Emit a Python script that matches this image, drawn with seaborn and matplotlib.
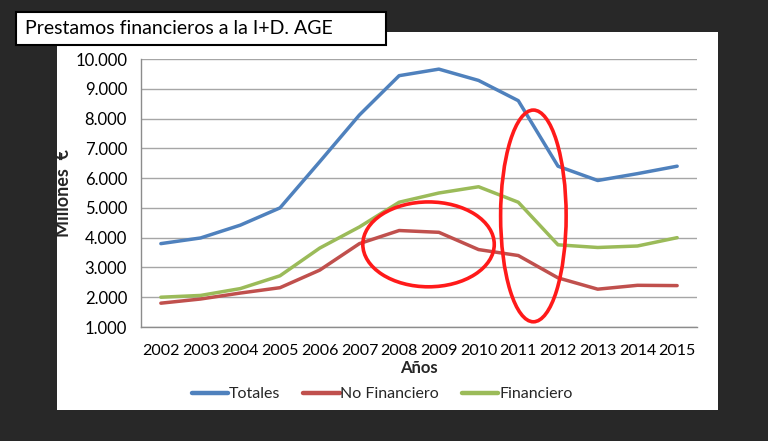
import matplotlib
matplotlib.use("Agg")
import matplotlib.pyplot as plt
from matplotlib.patches import Rectangle, Ellipse
from matplotlib.lines import Line2D
import matplotlib.ticker as mticker
import seaborn as sns
import pandas as pd

years = [2002, 2003, 2004, 2005, 2006, 2007, 2008, 2009, 2010, 2011, 2012, 2013, 2014, 2015]
totales = [3800, 3990, 4420, 5000, 6550, 8120, 9440, 9660, 9280, 8600, 6400, 5920, 6150, 6400]
no_financiero = [1800, 1940, 2140, 2320, 2910, 3800, 4240, 4180, 3600, 3400, 2650, 2270, 2400, 2390]
financiero = [2000, 2060, 2290, 2720, 3650, 4360, 5190, 5500, 5710, 5190, 3760, 3670, 3720, 4000]
series_names = ["Totales", "No Financiero", "Financiero"]
yticks = [1000, 2000, 3000, 4000, 5000, 6000, 7000, 8000, 9000, 10000]

df = pd.DataFrame({
    "Año": years * 3,
    "Valor": totales + no_financiero + financiero,
    "Serie": [series_names[0]] * len(years) + [series_names[1]] * len(years) + [series_names[2]] * len(years),
})

sns.set_theme(style="white")
plt.rcParams["font.family"] = ["Lato", "DejaVu Sans"]

W, H = 768, 441
fig = plt.figure(figsize=(W / 100, H / 100), dpi=100)
fig.patch.set_facecolor("#282828")

# white panel
fig.patches.append(Rectangle((57 / W, 1 - 410 / H), (718 - 57) / W, (410 - 32) / H,
                             transform=fig.transFigure, facecolor="white", edgecolor="none", zorder=-5))

ax = fig.add_axes([141 / W, 1 - 327 / H, 556 / W, 268 / H])
ax.set_zorder(1)
ax.set_facecolor("white")
palette = {"Totales": "#4F81BD", "No Financiero": "#C0504D", "Financiero": "#9BBB59"}
sns.lineplot(data=df, x="Año", y="Valor", hue="Serie", palette=palette, linewidth=2.5,
             ax=ax, legend=False, sort=False)

ax.set_xlim(2001.5, 2015.5)
ax.set_ylim(1000, 10000)
ax.set_yticks(yticks)
ax.yaxis.set_major_formatter(mticker.FuncFormatter(lambda v, p: f"{int(v):,}".replace(",", ".")))
ax.set_xticks(years)
ax.set_xticks([y - 0.5 for y in years] + [years[-1] + 0.5], minor=True)
ax.tick_params(axis="x", which="major", length=0, labelsize=11.5, colors="black", pad=12)
ax.tick_params(axis="x", which="minor", length=5, color="#8c8c8c", width=1, direction="out")
ax.tick_params(axis="y", length=5, color="#8c8c8c", width=1, direction="out", labelsize=12, colors="black", pad=5)
ax.grid(axis="y", color="#a6a6a6", linewidth=1)
ax.set_axisbelow(True)
for s in ["top", "right"]:
    ax.spines[s].set_visible(False)
for s in ["left", "bottom"]:
    ax.spines[s].set_color("#8c8c8c")
    ax.spines[s].set_linewidth(1)

ax.set_xlabel("Años", fontsize=12, fontweight="bold", labelpad=2)
ax.set_ylabel("Millones  €", fontsize=13, fontweight="bold", labelpad=2)

# red ellipses
ax.add_patch(Ellipse((2008.74, 3775), 3.31, 2850, fill=False, edgecolor="#ff1a1a", linewidth=2.6, clip_on=False, zorder=5))
ax.add_patch(Ellipse((2011.38, 4730), 1.65, 7110, fill=False, edgecolor="#ff1a1a", linewidth=2.6, clip_on=False, zorder=5))

# legend
handles = [Line2D([0], [0], color=palette[n], linewidth=3.2) for n in series_names]
fig.legend(handles, series_names, loc="center", bbox_to_anchor=(382 / W, 1 - 394 / H), ncol=3,
           frameon=False, fontsize=11.5, handlelength=2.3, handletextpad=0.05, columnspacing=1.4)

# title box
fig.patches.append(Rectangle((16 / W, 1 - 45 / H), (386 - 16) / W, 33 / H, transform=fig.transFigure,
                             facecolor="white", edgecolor="black", linewidth=1.5, zorder=3))
fig.text(25 / W, 1 - 29 / H, "Prestamos financieros a la I+D. AGE", fontsize=14, va="center", ha="left",
         color="black", zorder=4)

fig.savefig("out.png", dpi=100, facecolor=fig.get_facecolor())
